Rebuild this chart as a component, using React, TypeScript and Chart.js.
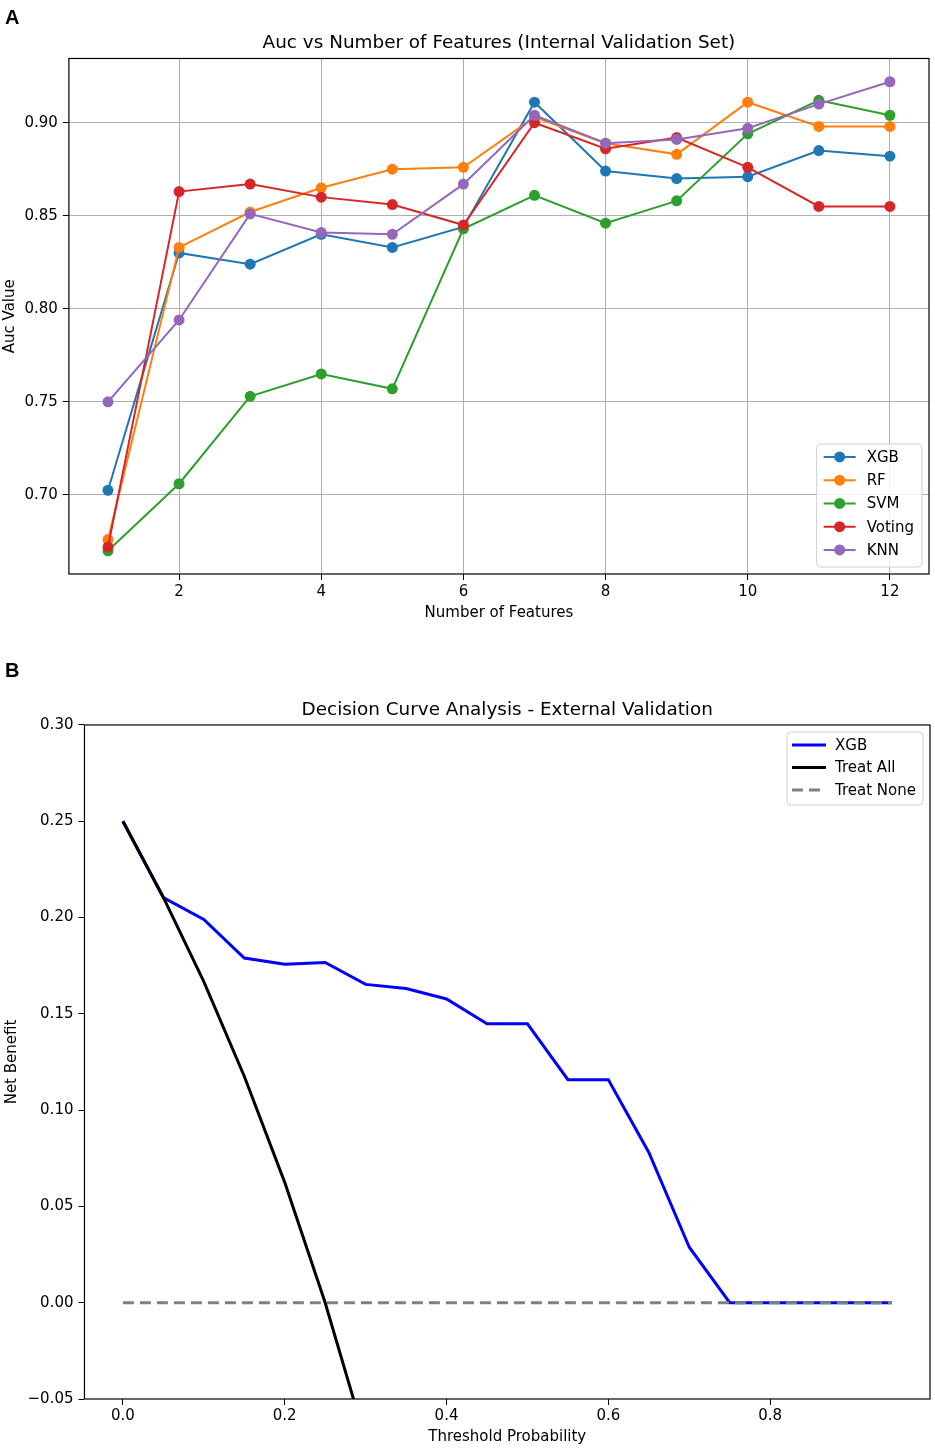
import React, { useEffect, useRef } from 'react';
import Chart from 'chart.js/auto';

// Panel A: AUC vs number of features (internal validation set)
const featureCounts = [1, 2, 3, 4, 5, 6, 7, 8, 9, 10, 11, 12];
const xgbAuc = [0.7025, 0.830, 0.824, 0.840, 0.833, 0.844, 0.911, 0.874, 0.870, 0.871, 0.885, 0.882];
const rfAuc = [0.676, 0.833, 0.852, 0.865, 0.875, 0.876, 0.903, 0.889, 0.883, 0.911, 0.898, 0.898];
const svmAuc = [0.670, 0.706, 0.753, 0.765, 0.757, 0.843, 0.861, 0.846, 0.858, 0.894, 0.912, 0.904];
const votingAuc = [0.672, 0.863, 0.867, 0.860, 0.856, 0.845, 0.900, 0.886, 0.892, 0.876, 0.855, 0.855];
const knnAuc = [0.750, 0.794, 0.851, 0.841, 0.840, 0.867, 0.904, 0.889, 0.891, 0.897, 0.910, 0.922];
const modelNames = ['XGB', 'RF', 'SVM', 'Voting', 'KNN'];
const modelColors = ['#1f77b4', '#ff7f0e', '#2ca02c', '#d62728', '#9467bd'];
const xTicksA = [2, 4, 6, 8, 10, 12];
const yTicksA = [0.70, 0.75, 0.80, 0.85, 0.90];

// Panel B: decision curve analysis (external validation)
const thresholds = [0, 0.05, 0.10, 0.15, 0.20, 0.25, 0.30, 0.35, 0.40, 0.45, 0.50, 0.55, 0.60, 0.65, 0.70, 0.75, 0.80, 0.85, 0.90, 0.95];
const xgbNetBenefit = [0.250, 0.2104, 0.199, 0.179, 0.1758, 0.1767, 0.1653, 0.1632, 0.1577, 0.1448, 0.1448, 0.1158, 0.1158, 0.078, 0.0288, 0, 0, 0, 0, 0];
const treatAllNetBenefit = [0.250, 0.2105, 0.1667, 0.1176, 0.0625, 0.000, -0.0714];
const treatNoneNetBenefit = [0, 0, 0, 0, 0, 0, 0, 0, 0, 0, 0, 0, 0, 0, 0, 0, 0, 0, 0, 0];
const xTicksB = [0.0, 0.2, 0.4, 0.6, 0.8];
const yTicksB = [-0.05, 0.0, 0.05, 0.10, 0.15, 0.20, 0.25, 0.30];

const FONT = "'DejaVu Sans', sans-serif";

// matplotlib-like frame around the plot area
const framePlugin = {
  id: 'frame',
  afterDatasetsDraw(chart: any) {
    const { ctx, chartArea } = chart;
    ctx.save();
    ctx.strokeStyle = '#000';
    ctx.lineWidth = 1.2;
    ctx.strokeRect(chartArea.left, chartArea.top, chartArea.right - chartArea.left, chartArea.bottom - chartArea.top);
    ctx.restore();
  },
};

// legend box drawn inside the plot area
const insetLegend = {
  id: 'insetLegend',
  afterDraw(chart: any, _args: any, opts: any) {
    const { ctx, chartArea } = chart;
    const sets = chart.data.datasets;
    ctx.save();
    ctx.font = `${opts.fontSize}px ${FONT}`;
    const textW = Math.max(...sets.map((d: any) => ctx.measureText(d.label).width));
    const w = opts.textX + textW + opts.padRight;
    const h = opts.padTop + opts.padBottom + sets.length * opts.rowH;
    const x = chartArea.right - opts.margin - w;
    const y = opts.corner === 'bottom' ? chartArea.bottom - opts.margin - h : chartArea.top + opts.margin;
    const r = 4;
    ctx.beginPath();
    ctx.moveTo(x + r, y);
    ctx.arcTo(x + w, y, x + w, y + h, r);
    ctx.arcTo(x + w, y + h, x, y + h, r);
    ctx.arcTo(x, y + h, x, y, r);
    ctx.arcTo(x, y, x + w, y, r);
    ctx.closePath();
    ctx.fillStyle = 'rgba(255,255,255,0.8)';
    ctx.fill();
    ctx.strokeStyle = '#d0d0d0';
    ctx.lineWidth = 1;
    ctx.stroke();
    sets.forEach((d: any, i: number) => {
      const cy = y + opts.padTop + opts.rowH * (i + 0.5);
      ctx.strokeStyle = d.borderColor;
      ctx.lineWidth = d.borderWidth;
      ctx.setLineDash(d.borderDash || []);
      ctx.beginPath();
      ctx.moveTo(x + opts.sampleX, cy);
      ctx.lineTo(x + opts.sampleX + opts.sampleW, cy);
      ctx.stroke();
      ctx.setLineDash([]);
      if (d.pointRadius > 0) {
        ctx.beginPath();
        ctx.arc(x + opts.sampleX + opts.sampleW / 2, cy, d.pointRadius, 0, Math.PI * 2);
        ctx.fillStyle = d.backgroundColor;
        ctx.fill();
      }
      ctx.fillStyle = '#000';
      ctx.textBaseline = 'middle';
      ctx.textAlign = 'left';
      ctx.fillText(d.label, x + opts.textX, cy + 1);
    });
    ctx.restore();
  },
};

const tickFont = { family: FONT, size: 15 };
const labelFont = { family: FONT, size: 15 };
const titleFont = { family: FONT, size: 18.4, weight: 'normal' as const };

const AucChart: React.FC = () => {
  const chartRef = useRef<HTMLCanvasElement>(null);
  const chartInstance = useRef<Chart | null>(null);

  useEffect(() => {
    if (chartInstance.current) chartInstance.current.destroy();
    if (!chartRef.current) return;
    const values = [xgbAuc, rfAuc, svmAuc, votingAuc, knnAuc];
    // @ts-ignore
    chartInstance.current = new Chart(chartRef.current, {
      type: 'line',
      data: {
        datasets: values.map((vals, i) => ({
          label: modelNames[i],
          data: featureCounts.map((f, j) => ({ x: f, y: vals[j] })),
          borderColor: modelColors[i],
          backgroundColor: modelColors[i],
          pointBackgroundColor: modelColors[i],
          pointBorderColor: modelColors[i],
          borderWidth: 2,
          pointRadius: 5.5,
          pointHoverRadius: 5.5,
          pointBorderWidth: 0,
          tension: 0,
          order: values.length - i,
        })),
      },
      options: {
        animation: false,
        responsive: true,
        maintainAspectRatio: false,
        layout: { padding: { left: 0, right: 6, top: 0, bottom: 18 } },
        plugins: {
          legend: { display: false },
          tooltip: { enabled: false },
          title: {
            display: true,
            fullSize: false,
            text: 'Auc vs Number of Features (Internal Validation Set)',
            font: titleFont,
            color: '#000',
            padding: { top: 32.5, bottom: 3.9 },
          },
          // @ts-ignore
          insetLegend: { corner: 'bottom', margin: 7, fontSize: 15, padTop: 1.4, padBottom: 5.4, rowH: 23.25, sampleX: 7, sampleW: 32, textX: 50, padRight: 8 },
        },
        scales: {
          x: {
            type: 'linear',
            min: 0.45,
            max: 12.55,
            afterBuildTicks: (ax: any) => { ax.ticks = xTicksA.map((v) => ({ value: v })); },
            ticks: { font: tickFont, color: '#000', padding: 3, maxRotation: 0, autoSkip: false, callback: (v: any) => String(v) },
            grid: { color: '#b0b0b0', lineWidth: 1, tickColor: '#000', tickLength: 6 },
            border: { display: false },
            title: { display: true, text: 'Number of Features', font: labelFont, color: '#000', padding: { top: 0, bottom: 0 } },
          },
          y: {
            type: 'linear',
            min: 0.6575,
            max: 0.9345,
            afterBuildTicks: (ax: any) => { ax.ticks = yTicksA.map((v) => ({ value: v })); },
            ticks: { font: tickFont, color: '#000', padding: 5, autoSkip: false, callback: (v: any) => Number(v).toFixed(2) },
            grid: { color: '#b0b0b0', lineWidth: 1, tickColor: '#000', tickLength: 6 },
            border: { display: false },
            title: { display: true, text: 'Auc Value', font: labelFont, color: '#000', padding: { top: 1, bottom: 0.5 } },
          },
        },
      },
      plugins: [framePlugin, insetLegend],
    });
    return () => {
      if (chartInstance.current) chartInstance.current.destroy();
    };
  }, []);

  return <canvas ref={chartRef}></canvas>;
};

const DcaChart: React.FC = () => {
  const chartRef = useRef<HTMLCanvasElement>(null);
  const chartInstance = useRef<Chart | null>(null);

  useEffect(() => {
    if (chartInstance.current) chartInstance.current.destroy();
    if (!chartRef.current) return;
    // @ts-ignore
    chartInstance.current = new Chart(chartRef.current, {
      type: 'line',
      data: {
        datasets: [
          {
            label: 'XGB',
            data: thresholds.map((t, i) => ({ x: t, y: xgbNetBenefit[i] })),
            borderColor: '#0000ff',
            backgroundColor: '#0000ff',
            borderWidth: 3,
            pointRadius: 0,
            tension: 0,
            order: 3,
          },
          {
            label: 'Treat All',
            data: treatAllNetBenefit.map((v, i) => ({ x: thresholds[i], y: v })),
            borderColor: '#000000',
            backgroundColor: '#000000',
            borderWidth: 3,
            pointRadius: 0,
            tension: 0,
            order: 2,
          },
          {
            label: 'Treat None',
            data: thresholds.map((t, i) => ({ x: t, y: treatNoneNetBenefit[i] })),
            borderColor: '#808080',
            backgroundColor: '#808080',
            borderWidth: 3,
            borderDash: [11, 6],
            pointRadius: 0,
            tension: 0,
            order: 1,
          },
        ],
      },
      options: {
        animation: false,
        responsive: true,
        maintainAspectRatio: false,
        layout: { padding: { left: 0, right: 5, top: 0, bottom: 4 } },
        plugins: {
          legend: { display: false },
          tooltip: { enabled: false },
          title: {
            display: true,
            fullSize: false,
            text: 'Decision Curve Analysis - External Validation',
            font: titleFont,
            color: '#000',
            padding: { top: 59.5, bottom: 3.4 },
          },
          // @ts-ignore
          insetLegend: { corner: 'top', margin: 7, fontSize: 15, padTop: 1.75, padBottom: 3.75, rowH: 22.5, sampleX: 5, sampleW: 34, textX: 48, padRight: 7 },
        },
        scales: {
          x: {
            type: 'linear',
            min: -0.0475,
            max: 0.9975,
            afterBuildTicks: (ax: any) => { ax.ticks = xTicksB.map((v) => ({ value: v })); },
            ticks: { font: { ...tickFont, lineHeight: 1.0 }, color: '#000', padding: 4, maxRotation: 0, autoSkip: false, callback: (v: any) => Number(v).toFixed(1) },
            grid: { drawOnChartArea: false, tickColor: '#000', tickLength: 6 },
            border: { display: false },
            title: { display: true, text: 'Threshold Probability', font: labelFont, color: '#000', padding: { top: 0, bottom: 0 } },
          },
          y: {
            type: 'linear',
            min: -0.05,
            max: 0.30,
            afterBuildTicks: (ax: any) => { ax.ticks = yTicksB.map((v) => ({ value: v })); },
            ticks: {
              font: tickFont,
              color: '#000',
              padding: 5,
              autoSkip: false,
              callback: (v: any) => (Number(v) < -1e-9 ? '\u2212' + Math.abs(Number(v)).toFixed(2) : Math.abs(Number(v)).toFixed(2)),
            },
            grid: { drawOnChartArea: false, tickColor: '#000', tickLength: 6 },
            border: { display: false },
            title: { display: true, text: 'Net Benefit', font: labelFont, color: '#000', padding: { top: 3, bottom: 1.5 } },
          },
        },
      },
      plugins: [framePlugin, insetLegend],
    });
    return () => {
      if (chartInstance.current) chartInstance.current.destroy();
    };
  }, []);

  return <canvas ref={chartRef}></canvas>;
};

const panelLabel: React.CSSProperties = {
  position: 'absolute',
  left: 5,
  fontFamily: "'Liberation Sans', Arial, sans-serif",
  fontWeight: 'bold',
  fontSize: 20,
  lineHeight: 1,
  color: '#000',
};

export default function App() {
  return (
    <div style={{ position: 'absolute', left: 0, top: 0, width: 935, height: 1450, background: '#fff' }}>
      <div style={{ position: 'absolute', left: 0, top: 0, width: 935, height: 640 }}>
        <AucChart />
      </div>
      <div style={{ position: 'absolute', left: 0, top: 640, width: 935, height: 810 }}>
        <DcaChart />
      </div>
      <div style={{ ...panelLabel, top: 7 }}>A</div>
      <div style={{ ...panelLabel, top: 660 }}>B</div>
    </div>
  );
}
